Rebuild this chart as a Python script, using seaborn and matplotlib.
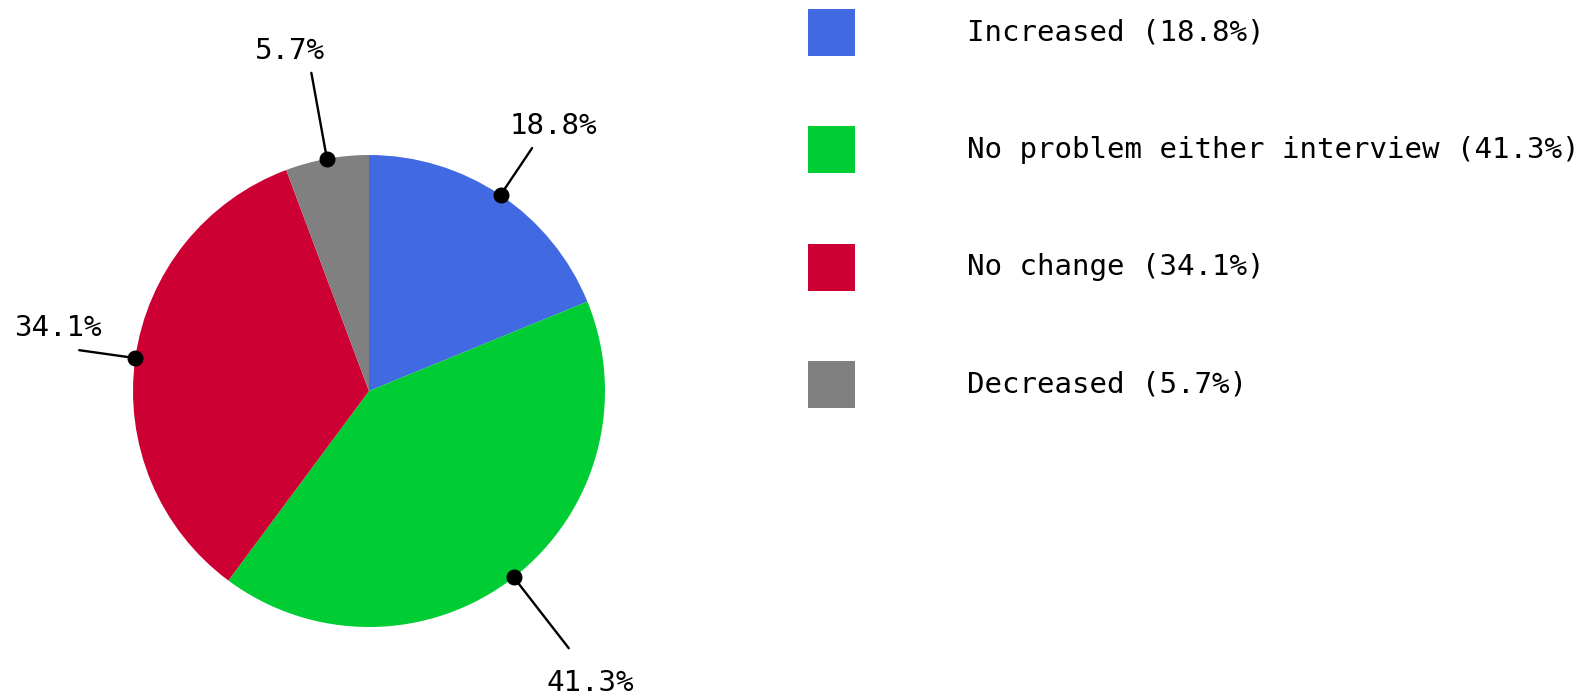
import numpy as np
import matplotlib
matplotlib.use("Agg")
import matplotlib.pyplot as plt
import seaborn as sns
from matplotlib.patches import Rectangle

# data
labels = ["Increased", "No problem either interview", "No change", "Decreased"]
values = [18.8, 41.3, 34.1, 5.7]
colors = ["#4169E1", "#00CC33", "#CC0033", "#808080"]

# leader length per label (in radii), layout only
leader = [1.24, 1.38, 1.24, 1.37]

sns.set_style("white")
plt.rcParams["font.family"] = ["DejaVu Sans Mono"]

W, H = 1591, 698
fig = plt.figure(figsize=(W / 100, H / 100), dpi=100)
ax = fig.add_axes([0, 0, 1, 1])

cx, cy, r = 369, H - 391, 236
wedges, _ = ax.pie(values, colors=colors, startangle=90, counterclock=False,
                   center=(cx, cy), radius=r, frame=True,
                   wedgeprops=dict(linewidth=0))
ax.set_xlim(0, W)
ax.set_ylim(0, H)
ax.axis("off")

# labels with leader lines
for w, v, f in zip(wedges, values, leader):
    ang = np.deg2rad((w.theta1 + w.theta2) / 2)
    ux, uy = np.cos(ang), np.sin(ang)
    x0, y0 = cx + r * ux, cy + r * uy
    x1, y1 = cx + f * r * ux, cy + f * r * uy
    ax.plot([x0, x1], [y0, y1], color="black", lw=1.7, zorder=3)
    ax.plot(x0, y0, "o", color="black", ms=10.5, zorder=4)
    dx = 21 if ux > 0 else -21
    dy = 22 if uy > 0 else -35
    ax.text(x1 + dx, y1 + dy, f"{v:.1f}%", ha="center", va="center",
            fontsize=21, color="black")

# legend
for i, (lab, v, c) in enumerate(zip(labels, values, colors)):
    top = 9 + i * 117.3
    ax.add_patch(Rectangle((808, H - top - 47), 47, 47, color=c, lw=0))
    ax.text(967, H - top - 23.5, f"{lab} ({v:.1f}%)", ha="left", va="center",
            fontsize=21, color="black")

fig.savefig("out.png", dpi=100, facecolor="white")
